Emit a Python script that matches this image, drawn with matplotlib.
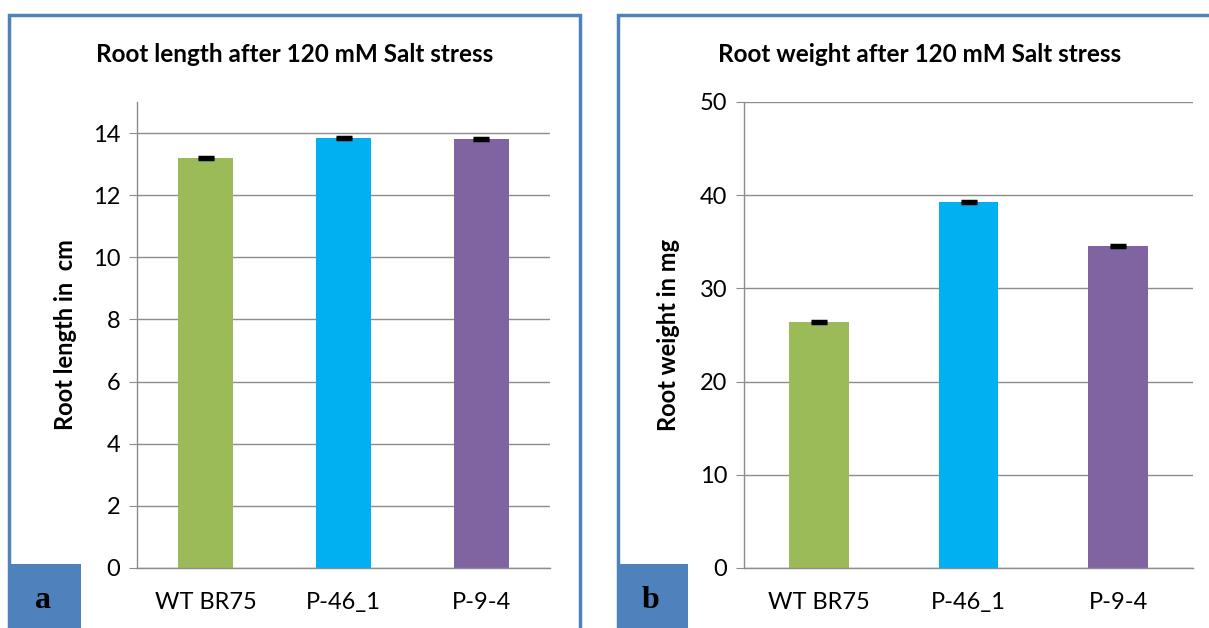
import matplotlib
matplotlib.use('Agg')
import matplotlib.pyplot as plt
from matplotlib.patches import Rectangle

# Data
lines = ['WT BR75', 'P-46_1', 'P-9-4']
root_length = [13.2, 13.85, 13.8]
root_length_err = [0.03, 0.03, 0.03]
root_weight = [26.4, 39.3, 34.55]
root_weight_err = [0.12, 0.12, 0.12]
bar_colors = ['#9BBB59', '#00B0F0', '#8064A2']

plt.rcParams['font.family'] = ['Lato', 'DejaVu Sans']

W, H = 1209, 628
fig = plt.figure(figsize=(W / 100, H / 100), dpi=100)


def fx(px):
    return px / W


def fy(py):
    return 1 - py / H


def panel(ax_box, values, errs, ylim, yticks, ylabel, label_x):
    x0, y0, x1, y1 = ax_box
    ax = fig.add_axes([fx(x0), fy(y1), fx(x1 - x0), (y1 - y0) / H])
    pos = range(len(lines))
    ax.bar(pos, values, width=0.40, color=bar_colors, zorder=2)
    ax.errorbar(pos, values, yerr=errs, fmt='none', ecolor='black',
                elinewidth=1.5, capsize=6, capthick=2.5, zorder=3)
    ax.set_xlim(-0.5, len(lines) - 0.5)
    ax.set_ylim(*ylim)
    ax.set_yticks(yticks)
    ax.set_xticks(list(pos))
    ax.set_xticklabels(lines)
    ax.grid(axis='y', color='#8c8c8c', linewidth=1, zorder=0)
    for s in ['top', 'right']:
        ax.spines[s].set_visible(False)
    for s in ['left', 'bottom']:
        ax.spines[s].set_color('#8c8c8c')
        ax.spines[s].set_linewidth(1)
    ax.tick_params(axis='y', length=6, color='#8c8c8c', labelsize=17, pad=6)
    ax.tick_params(axis='x', length=0, labelsize=17, pad=17)
    ax.set_ylabel(ylabel, fontsize=17, fontweight='bold')
    # label anchor is its right edge (rotated text)
    ax.yaxis.set_label_coords((label_x - x0) / (x1 - x0), 0.5)
    return ax


# panel frames
for (l, r) in [(9, 580), (618, 1220)]:
    fig.patches.append(Rectangle((fx(l), fy(640)), fx(r - l), (640 - 15) / H,
                                 transform=fig.transFigure, fill=False,
                                 edgecolor='#4F81BD', linewidth=2.5, zorder=0))

panel((137, 102, 550, 568), root_length, root_length_err, (0, 15),
      range(0, 15, 2), 'Root length in  cm', 77)
panel((744, 102, 1193, 568), root_weight, root_weight_err, (0, 50),
      range(0, 51, 10), 'Root weight in mg', 680)

fig.text(fx(295), fy(55), 'Root length after 120 mM Salt stress',
         ha='center', va='center', fontsize=17.5, fontweight='bold')
fig.text(fx(920), fy(55), 'Root weight after 120 mM Salt stress',
         ha='center', va='center', fontsize=17.5, fontweight='bold')

# panel letters
for (l, letter) in [(10, 'a'), (617, 'b')]:
    fig.patches.append(Rectangle((fx(l), 0), fx(71), (628 - 564) / H,
                                 transform=fig.transFigure,
                                 facecolor='#4F81BD', edgecolor='none', zorder=5))
    fig.text(fx(l + 33), fy(600), letter, ha='center', va='center',
             fontsize=23, fontweight='bold', family=['Liberation Serif'], zorder=6)

fig.savefig('out.png', dpi=100)
